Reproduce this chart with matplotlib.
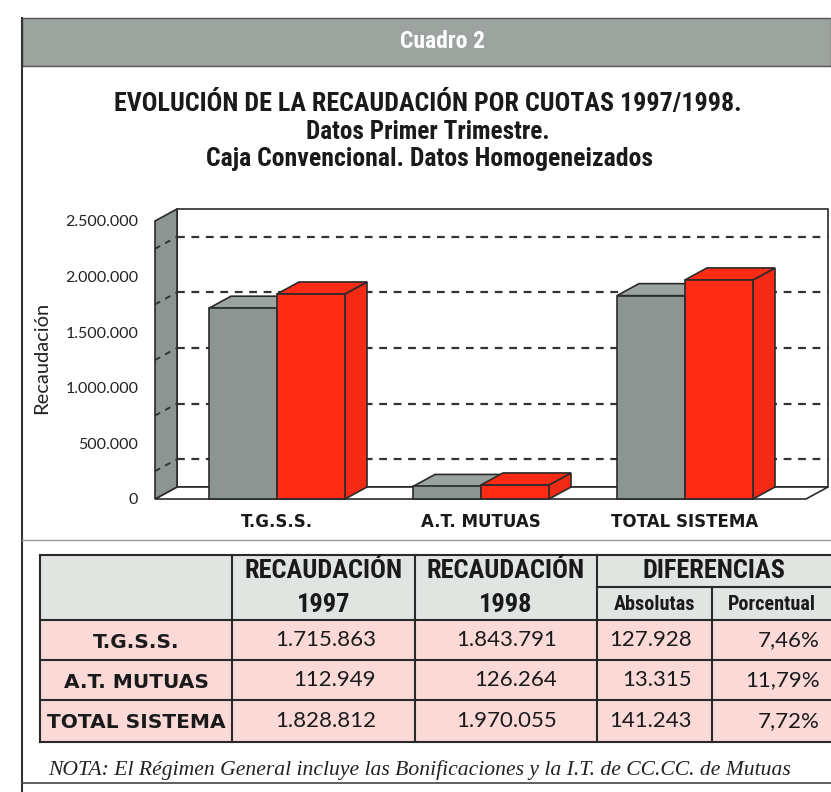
#!/usr/bin/env python3
"""Cuadro 2: recaudacion por cuotas 1997/1998, 3D-style bars plus summary table."""
import matplotlib
matplotlib.use("Agg")
import matplotlib.pyplot as plt
from matplotlib.patches import Polygon, Rectangle
import numpy as np

categories = ["T.G.S.S.", "A.T. MUTUAS", "TOTAL SISTEMA"]
recaud_1997 = [1715863, 112949, 1828812]
recaud_1998 = [1843791, 126264, 1970055]
dif_abs = [127928, 13315, 141243]
dif_pct = [7.46, 11.79, 7.72]
y_ticks = [0, 500000, 1000000, 1500000, 2000000, 2500000]

GRAY = "#8d9592"
GRAY_TOP = "#9ba3a0"
RED = "#ff2b14"
RED_SIDE = "#f42a14"
EDGE = "#2a2a2a"
HEAD_BG = "#e1e5e2"
PINK = "#fbd9d6"
BAND = "#9da39f"
NARROW = ["Roboto Condensed", "Roboto", "DejaVu Sans"]

W, H = 831, 792


def fmt_int(v):
    return f"{v:,}".replace(",", ".")


def fmt_pct(v):
    return f"{v:.2f}".replace(".", ",") + "%"


def draw_box(ax, x_left, width, height, color, top_col, side_col, ddx, ddy, z):
    kw = dict(edgecolor=EDGE, lw=1.2, clip_on=False)
    ax.add_patch(Polygon([(x_left + width, 0), (x_left + width + ddx, ddy),
                          (x_left + width + ddx, height + ddy), (x_left + width, height)],
                         facecolor=side_col, zorder=z, **kw))
    ax.add_patch(Polygon([(x_left, height), (x_left + width, height),
                          (x_left + width + ddx, height + ddy), (x_left + ddx, height + ddy)],
                         facecolor=top_col, zorder=z, **kw))
    ax.bar(x_left, height, width, align="edge", color=color, zorder=z + 0.1, **kw)


def draw_chart(fig):
    # front plane of the chart in pixels
    px_left, px_right, px_bottom, px_top = 155, 806, 499, 221
    ax = fig.add_axes([px_left / W, 1 - px_bottom / H,
                       (px_right - px_left) / W, (px_bottom - px_top) / H])
    ax.patch.set_alpha(0)
    step_px = 204.0
    xmin = -(277 - px_left) / step_px
    xmax = xmin + (px_right - px_left) / step_px
    ymax = y_ticks[-1]
    ax.set_xlim(xmin, xmax)
    ax.set_ylim(0, ymax)

    ddx = 22 / step_px
    ddy = 12 / (px_bottom - px_top) * ymax
    bw = 68 / step_px

    # back wall, floor, left wall
    ax.add_patch(Rectangle((xmin + ddx, ddy), xmax - xmin, ymax, facecolor="white",
                           edgecolor=EDGE, lw=1.2, zorder=1, clip_on=False))
    grid_vals = (np.array(y_ticks[:-1]) + np.array(y_ticks[1:])) / 2
    for g in grid_vals:
        ax.plot([xmin + ddx, xmax + ddx], [g + ddy, g + ddy], ls=(0, (3.5, 3)),
                color="#333333", lw=1.6, zorder=1.5, clip_on=False)
    ax.add_patch(Polygon([(xmin, 0), (xmax, 0), (xmax + ddx, ddy), (xmin + ddx, ddy)],
                         facecolor="white", edgecolor=EDGE, lw=1.2, zorder=2, clip_on=False))
    ax.add_patch(Polygon([(xmin, 0), (xmin, ymax), (xmin + ddx, ymax + ddy), (xmin + ddx, ddy)],
                         facecolor=GRAY, edgecolor=EDGE, lw=1.2, zorder=2.5, clip_on=False))
    for g in grid_vals:
        ax.plot([xmin, xmin + ddx], [g, g + ddy], ls=(0, (3, 3)), color="#333333",
                lw=1.4, zorder=2.6, clip_on=False)

    x = np.arange(len(categories))
    for i in range(len(categories)):
        draw_box(ax, x[i] - bw, bw, recaud_1997[i], GRAY, GRAY_TOP, GRAY, ddx, ddy, 3 + i)
        draw_box(ax, x[i], bw, recaud_1998[i], RED, RED, RED_SIDE, ddx, ddy, 3.5 + i)

    ax.set_yticks(y_ticks, [fmt_int(v) for v in y_ticks])
    ax.set_xticks(x, categories)
    ax.tick_params(axis="y", length=0, pad=12, labelsize=11.5, labelcolor="#222222")
    ax.tick_params(axis="x", length=0, pad=10, labelsize=12)
    for lab in ax.get_yticklabels():
        lab.set_family("Lato")
    for lab in ax.get_xticklabels():
        lab.set_fontweight("bold")
        lab.set_color("#1a1a1a")
    for s in ax.spines.values():
        s.set_visible(False)
    fig.text(42 / W, 1 - 358 / H, "Recaudación", rotation=90, ha="center", va="center",
             fontsize=14.5, family="Lato", color="#222222")


def draw_table(bg):
    cols = [40, 232, 415, 597, 712, 831]
    rows = [555, 587, 620, 660, 700, 742]
    lw = 1.5
    # backgrounds
    bg.add_patch(Rectangle((cols[0], rows[0]), cols[-1] - cols[0], rows[2] - rows[0],
                           facecolor=HEAD_BG, edgecolor="none"))
    bg.add_patch(Rectangle((cols[0], rows[2]), cols[-1] - cols[0], rows[-1] - rows[2],
                           facecolor=PINK, edgecolor="none"))
    # borders
    bg.plot([cols[0], cols[-1]], [rows[0], rows[0]], color=EDGE, lw=lw)
    bg.plot([cols[3], cols[-1]], [rows[1], rows[1]], color=EDGE, lw=lw)
    for r in rows[2:]:
        bg.plot([cols[0], cols[-1]], [r, r], color=EDGE, lw=lw)
    for c in cols[:4]:
        bg.plot([c, c], [rows[0], rows[-1]], color=EDGE, lw=lw)
    bg.plot([cols[4], cols[4]], [rows[1], rows[-1]], color=EDGE, lw=lw)

    head = dict(family=NARROW, fontweight="bold", fontsize=19, color="#1a1a1a",
                ha="center", va="center")
    for j, yr in ((1, "1997"), (2, "1998")):
        cx = (cols[j] + cols[j + 1]) / 2
        bg.text(cx, 571, "RECAUDACIÓN", **head)
        bg.text(cx, 605, yr, **head)
    bg.text((cols[3] + cols[5]) / 2, 571, "DIFERENCIAS", **head)
    sub = dict(head, fontsize=14.5)
    bg.text((cols[3] + cols[4]) / 2, 604, "Absolutas", **sub)
    bg.text((cols[4] + cols[5]) / 2, 604, "Porcentual", **sub)

    right_x = [376, 557, 692, 820]
    num = dict(fontsize=16, family="Lato", color="#1a1a1a", ha="right", va="center")
    for i, cat in enumerate(categories):
        cy = (rows[2 + i] + rows[3 + i]) / 2
        bg.text((cols[0] + cols[1]) / 2, cy + 2, cat, fontsize=14.5, fontweight="bold",
                color="#1a1a1a", ha="center", va="center")
        vals = [fmt_int(recaud_1997[i]), fmt_int(recaud_1998[i]),
                fmt_int(dif_abs[i]), fmt_pct(dif_pct[i])]
        for k, v in enumerate(vals):
            bg.text(right_x[k], cy, v, **num)

    bg.text(48, 770, "NOTA: El Régimen General incluye las Bonificaciones y la I.T. de CC.CC. de Mutuas",
            family="Liberation Serif", style="italic", fontsize=15.6, color="#222222",
            ha="left", va="center")


def main():
    fig = plt.figure(figsize=(W / 100, H / 100), dpi=100)
    bg = fig.add_axes([0, 0, 1, 1])
    bg.set_xlim(0, W)
    bg.set_ylim(H, 0)
    bg.axis("off")

    # frame and header band
    bg.add_patch(Rectangle((22, 18), W - 22, 48, facecolor=BAND, edgecolor="#555555", lw=1))
    bg.plot([22, 22], [18, H], color="#333333", lw=1.5)
    bg.plot([22, W], [540, 540], color="#999999", lw=1)
    bg.plot([22, W], [783, 783], color="#444444", lw=1.2)
    bg.text(442, 41, "Cuadro 2", color="white", fontsize=17, fontweight="bold",
            family=NARROW, ha="center", va="center")

    title = dict(family=NARROW, fontweight="bold", color="#1a1a1a", ha="center", va="center")
    bg.text(428, 103, "EVOLUCIÓN DE LA RECAUDACIÓN POR CUOTAS 1997/1998.", fontsize=18.7, **title)
    bg.text(428, 132, "Datos Primer Trimestre.", fontsize=18.2, **title)
    bg.text(430, 159, "Caja Convencional. Datos Homogeneizados", fontsize=18.5, **title)

    draw_chart(fig)
    draw_table(bg)

    fig.savefig("out.png", dpi=100)
    plt.close(fig)


if __name__ == "__main__":
    main()
